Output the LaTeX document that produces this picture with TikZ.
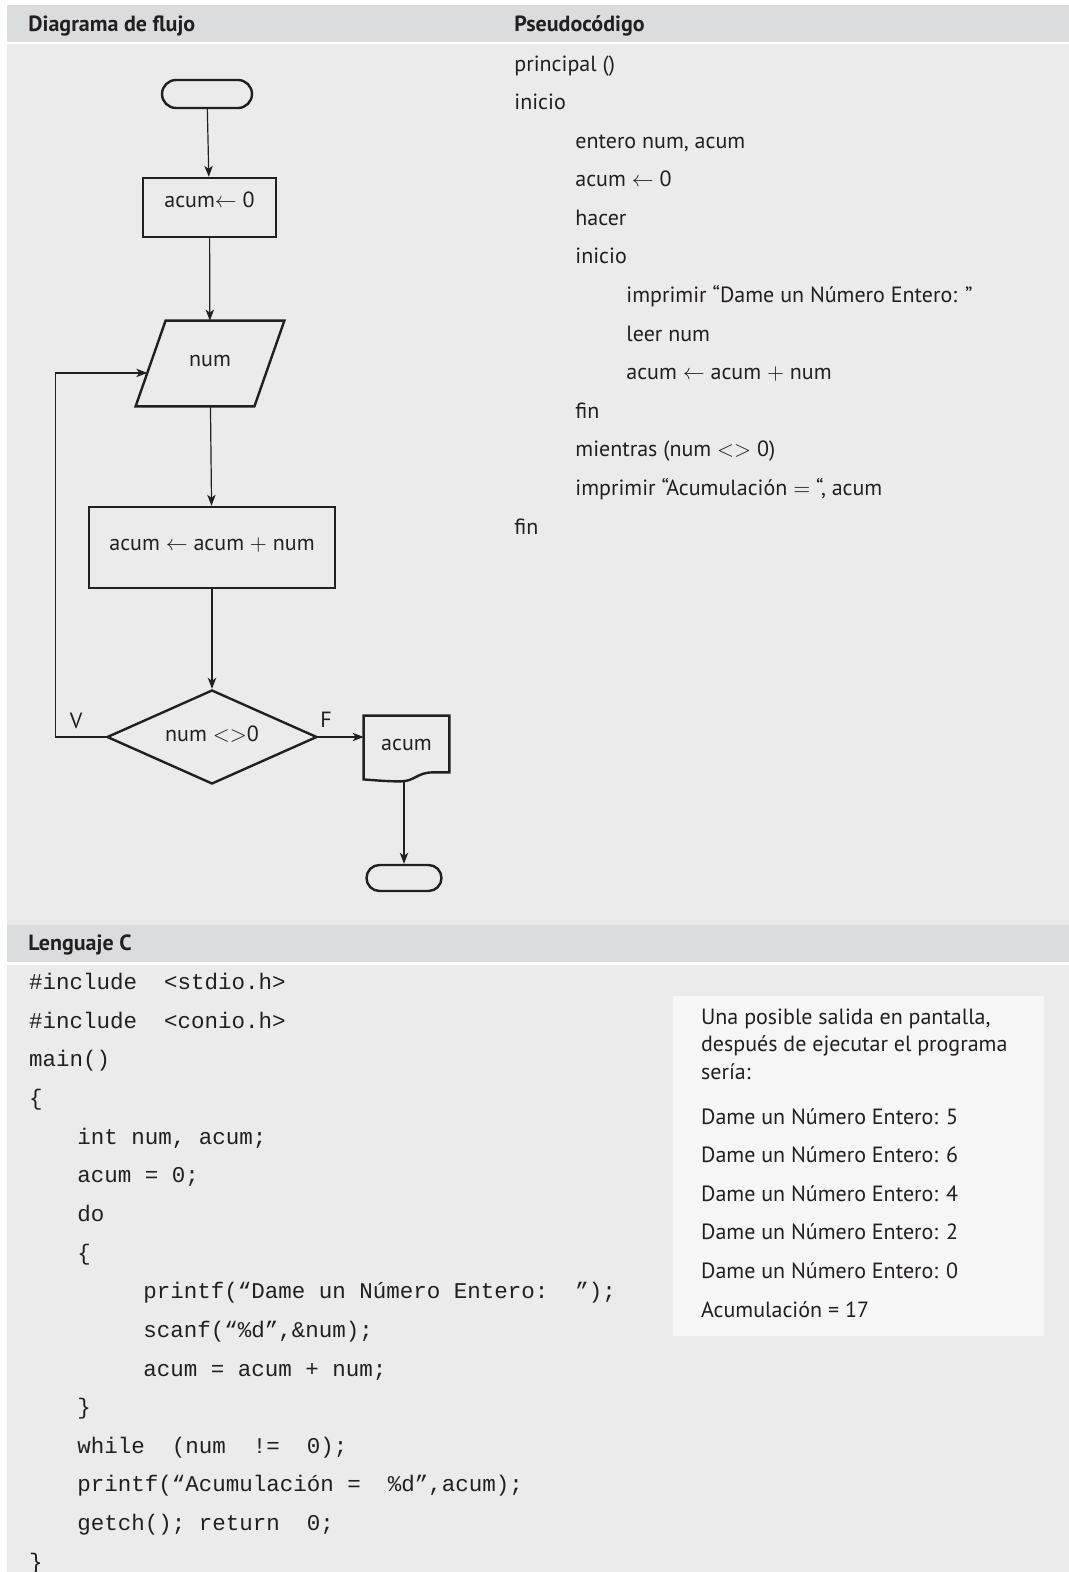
\documentclass[tikz,border=0pt]{standalone}
\usepackage{fontspec}
\setmainfont{PT Sans}
\setmonofont{Liberation Mono}
\usetikzlibrary{positioning,calc,arrows.meta,shapes.geometric,shapes.misc}

\definecolor{cabecera}{HTML}{DBDCDE}
\definecolor{fondo}{HTML}{EBEBEC}
\definecolor{pantalla}{HTML}{F6F6F6}
\definecolor{tinta}{HTML}{231F20}

\newcommand{\cuerpo}{\fontsize{11}{13}\selectfont}
\newcommand{\mono}{\ttfamily\fontsize{11.25}{13}\selectfont}

\begin{document}
\begin{tikzpicture}[x=0.5pt, y=-0.5pt,
    forma/.style={draw=tinta, line width=1.2pt, font=\cuerpo, text=tinta, inner sep=0pt, text height=8pt},
    flecha/.style={draw=tinta, line width=0.6pt, -{Stealth[length=5.5pt, width=4.2pt, inset=1.5pt]}},
    texto/.style={anchor=base west, inner sep=0pt, font=\cuerpo, text=tinta},
    codigo/.style={anchor=base west, inner sep=0pt, font=\mono, text=tinta},
    titulo/.style={anchor=base west, inner sep=0pt, font=\cuerpo\bfseries, text=tinta}]

    % --- Fondo y paneles ---
    \useasboundingbox (0,0) rectangle (1069,1572);
    \fill[white] (0,0) rectangle (1069,1572);
    \fill[cabecera] (7,5) rectangle (1069,42);
    \fill[fondo] (7,44.5) rectangle (1069,925);
    \fill[cabecera] (7,925) rectangle (1069,962);
    \fill[fondo] (7,964.5) rectangle (1069,1572);

    \node[titulo] (tflujo) at (28,31.5) {Diagrama de flujo};
    \node[titulo] (tpseudo) at (514,31.5) {Pseudocódigo};
    \node[titulo] (tlenguaje) at (28,950) {Lenguaje C};

    % --- Diagrama de flujo ---
    \node[forma, rounded rectangle, minimum width=45pt, minimum height=14pt] (inicio) at (207,94) {};
    \node[forma, rectangle, minimum width=66.5pt, minimum height=29.5pt, text depth=8pt] (cero) at (209.5,207.5) {acum$\leftarrow$ 0\hspace{4pt}};
    \node[font=\cuerpo, text=tinta, inner sep=0pt, text height=8pt, text depth=5pt,
          minimum width=59pt, minimum height=42.5pt] (leer) at (210,363.5) {num};
    \node[forma, rectangle, minimum width=123pt, minimum height=40.5pt, text depth=5pt] (suma) at (212,547.5) {acum $\leftarrow$ acum $+$ num};
    \node[forma, diamond, aspect=2.2, minimum width=105pt, minimum height=47pt, text depth=4pt] (prueba) at (212,737) {num $<>$0\hspace{6pt}};
    \node[font=\cuerpo, text=tinta, inner sep=0pt, text height=8pt, text depth=6pt,
          minimum width=42.5pt, minimum height=32.5pt] (salida) at (406.5,748.5) {acum};
    \node[forma, rounded rectangle, minimum width=37.5pt, minimum height=13pt] (fin) at (404,878) {};

    % paralelogramo (lectura)
    \coordinate (leer-no) at ($(leer.north west)+(15,0)$);
    \coordinate (leer-so) at ($(leer.south west)+(-15,0)$);
    \draw[forma] (leer-no) -- ($(leer.north east)+(15,0)$) -- ($(leer.south east)+(-15,0)$) -- (leer-so) -- cycle;

    % documento (salida impresa)
    \draw[forma] (salida.north west) -- (salida.north east) -- ($(salida.south east)+(0,-9)$)
        -- ($(salida.south east)+(-17,-9)$)
        .. controls ($(salida.south east)+(-32,-9)$) and ($(salida.south)+(8,0)$) .. ($(salida.south)+(-6,0)$)
        .. controls ($(salida.south)+(-18,0)$) and ($(salida.south west)+(12,-1)$) .. ($(salida.south west)+(0,-2)$)
        -- cycle;

    \node[font=\cuerpo, text=tinta] (verdad) at (76,721) {V};
    \node[font=\cuerpo, text=tinta] (falso) at (326,720) {F};

    % --- Conectores ---
    \draw[flecha] (inicio) -- (cero);
    \draw[flecha] (cero) -- (leer);
    \draw[flecha] (leer) -- (suma);
    \draw[flecha] (suma) -- (prueba);
    \coordinate (entrada) at ($(leer-so)!0.39!(leer-no)$);
    \draw[flecha] (prueba.west) -- ++(-50,0) |- (entrada);
    \draw[flecha] (prueba.east) -- (prueba.east -| salida.west);
    \draw[flecha] (fin.north |- salida.south) -- (fin.north);

    % --- Pseudocódigo ---
    \node[texto] (p1) at (514,71.4) {principal ()};
    \node[texto] (p2) at (514,110) {inicio};
    \node[texto] (p3) at (575,148.5) {entero num, acum};
    \node[texto] (p4) at (575,187) {acum $\leftarrow$ 0};
    \node[texto] (p5) at (575,225.6) {hacer};
    \node[texto] (p6) at (575,264) {inicio};
    \node[texto] (p7) at (626,302.7) {imprimir “Dame un Número Entero: ”};
    \node[texto] (p8) at (626,341.3) {leer num};
    \node[texto] (p9) at (626,379.8) {acum $\leftarrow$ acum $+$ num};
    \node[texto] (p10) at (575,418.4) {fin};
    \node[texto] (p11) at (575,456.9) {mientras (num $<>$ 0)};
    \node[texto] (p12) at (575,495.5) {imprimir “Acumulación $=$ “, acum};
    \node[texto] (p13) at (514,534) {fin};

    % --- Lenguaje C ---
    \node[codigo] (c1) at (28.6,989.5) {\#include\ \ <stdio.h>};
    \node[codigo] (c2) at (28.6,1028.1) {\#include\ \ <conio.h>};
    \node[codigo] (c3) at (28.6,1066.8) {main()};
    \node[codigo] (c4) at (28.6,1105.4) {\{};
    \node[codigo] (c5) at (77,1144.1) {int num, acum;};
    \node[codigo] (c6) at (77,1182.7) {acum = 0;};
    \node[codigo] (c7) at (77,1221.4) {do};
    \node[codigo] (c8) at (77,1260) {\{};
    \node[codigo] (c9) at (143,1298.7) {printf(“Dame un Número Entero:\ \ ”);};
    \node[codigo] (c10) at (143,1337.3) {scanf(“\%d”,\&num);};
    \node[codigo] (c11) at (143,1376) {acum = acum + num;};
    \node[codigo] (c12) at (77,1414.6) {\}};
    \node[codigo] (c13) at (77,1453.3) {while\ \ (num\ \ !=\ \ 0);};
    \node[codigo] (c14) at (77,1491.9) {printf(“Acumulación =\ \ \%d”,acum);};
    \node[codigo] (c15) at (77,1530.6) {getch(); return\ \ 0;};
    \node[codigo] (c16) at (28.6,1569.2) {\}};

    % --- Salida en pantalla ---
    \fill[pantalla] (673,996) rectangle (1044,1336);
    \node[texto] (s1) at (700.7,1024) {Una posible salida en pantalla,};
    \node[texto] (s2) at (700.7,1051.5) {después de ejecutar el programa};
    \node[texto] (s3) at (700.7,1079) {sería:};
    \node[texto] (s4) at (700.7,1124) {Dame un Número Entero: 5};
    \node[texto] (s5) at (700.7,1162.6) {Dame un Número Entero: 6};
    \node[texto] (s6) at (700.7,1201.2) {Dame un Número Entero: 4};
    \node[texto] (s7) at (700.7,1239.8) {Dame un Número Entero: 2};
    \node[texto] (s8) at (700.7,1278.4) {Dame un Número Entero: 0};
    \node[texto] (s9) at (700.7,1317) {Acumulación = 17};
\end{tikzpicture}
\end{document}
